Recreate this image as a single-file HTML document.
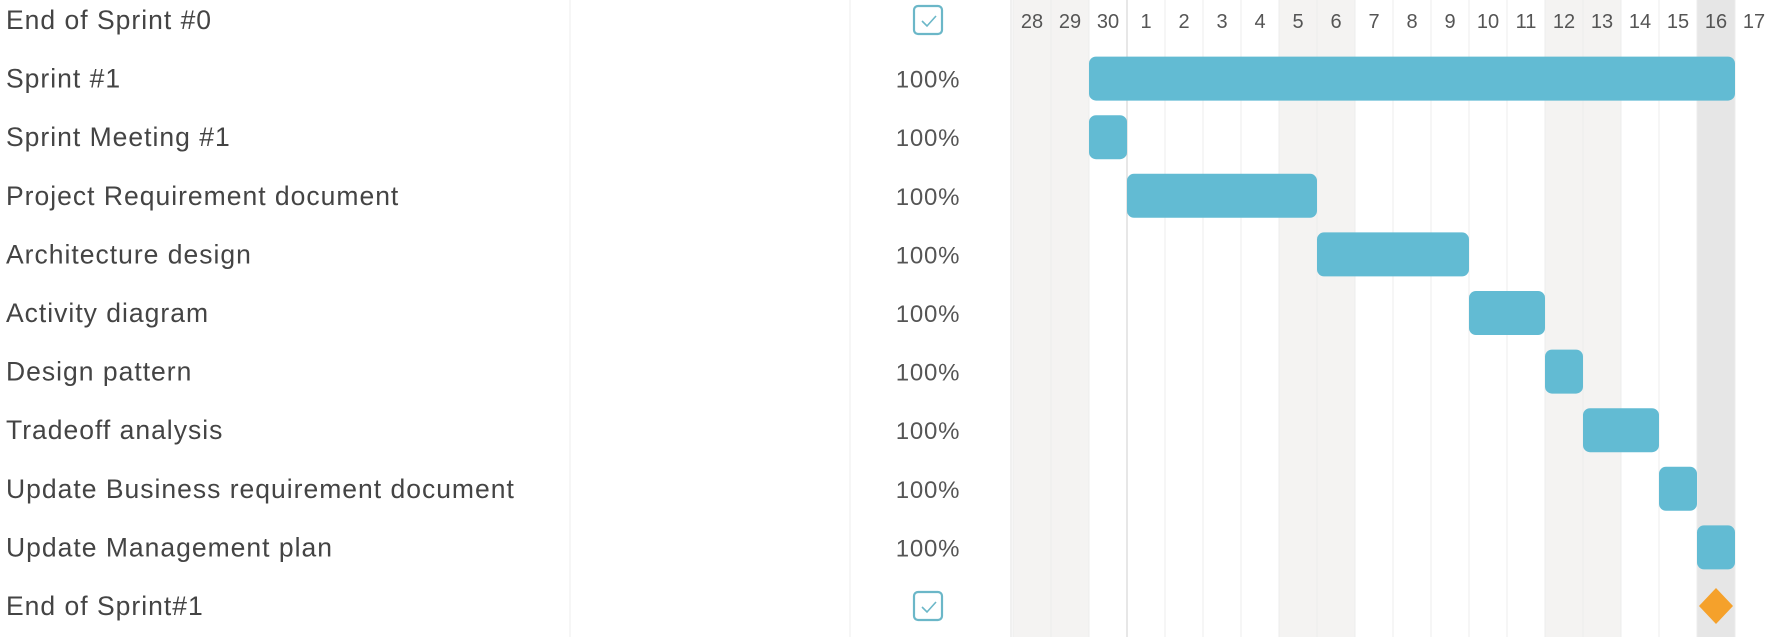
<!DOCTYPE html>
<html><head><meta charset="utf-8"><style>
html,body{margin:0;padding:0;background:#fff;width:1771px;height:637px;overflow:hidden;font-family:"Liberation Sans",sans-serif;}
</style></head><body>
<svg id="g" width="1771" height="637" xmlns="http://www.w3.org/2000/svg"></svg>
<script>
const days=["28","29","30","1","2","3","4","5","6","7","8","9","10","11","12","13","14","15","16","17"];
const shaded=[0,1,7,8,14,15];
const todayIdx=18;
const tasks=["End of Sprint #0","Sprint #1","Sprint Meeting #1","Project Requirement document","Architecture design","Activity diagram","Design pattern","Tradeoff analysis","Update Business requirement document","Update Management plan","End of Sprint#1"];
const progress=["check","100%","100%","100%","100%","100%","100%","100%","100%","100%","check"];
const starts=[null,2,2,3,8,12,14,15,17,18,18];
const durations=[null,17,1,5,4,2,1,2,1,1,0];
const NS="http://www.w3.org/2000/svg";
const svg=document.getElementById('g');
const x0=1013,dw=38,rowH=58.6,barH=44;
const xs=i=>x0+i*dw;
const yc=r=>20+r*rowH;
function el(t,a,p){const e=document.createElementNS(NS,t);for(const k in a)e.setAttribute(k,a[k]);(p||svg).appendChild(e);return e;}
days.forEach((d,i)=>{
  const fill=i===todayIdx?"#e6e6e6":(shaded.includes(i)?"#f4f3f2":"#fff");
  const r=el('rect',{x:xs(i),y:0,width:dw,height:637,fill:fill});
  
  
  const l=el('line',{x1:xs(i),x2:xs(i),y1:0,y2:637,stroke:i===3?"#cfcfcf":"#ececec","stroke-width":1});
  
  
  const t=el('text',{x:xs(i)+dw/2,y:28,"text-anchor":"middle","font-size":20,fill:"#555"});
  t.textContent=d;
  
  
});
[[570,"#eee"],[850,"#eee"],[1011,"#e2e2e2"]].forEach(s=>{
  const l=el('line',{x1:s[0],x2:s[0],y1:0,y2:637,stroke:s[1]});
  
  
});
tasks.forEach((n,r)=>{
  const y=yc(r);
  const t=el('text',{x:6,y:y+9,"font-size":26.5,"letter-spacing":1.0,fill:"#444"});
  t.textContent=n;
  
  
  if(progress[r]==="check"){
    const g=el('g',{});
    
    
    el('rect',{x:914,y:y-14,width:28,height:28,rx:4,fill:"#fff",stroke:"#6bb7c8","stroke-width":2.2},g);
    el('path',{d:`M922 ${y+1} l5 5 l9 -10`,fill:"none",stroke:"#6bb7c8","stroke-width":1.6},g);
  } else {
    const p=el('text',{x:928,y:y+9,"text-anchor":"middle","font-size":24,"letter-spacing":0.8,fill:"#555"});
    p.textContent=progress[r];
    
    
  }
  if(starts[r]===null)return;
  if(durations[r]===0){
    const cx=xs(starts[r])+dw/2;
    const m=el('path',{d:`M${cx} ${y-18} L${cx+17} ${y} L${cx} ${y+18} L${cx-17} ${y} Z`,fill:"#f5a12b"});
    
    
  } else {
    const b=el('rect',{x:xs(starts[r]),y:y-barH/2,width:durations[r]*dw,height:barH,rx:7,fill:"#62bbd3"});
    
    
  }
});
</script>
</body></html>
